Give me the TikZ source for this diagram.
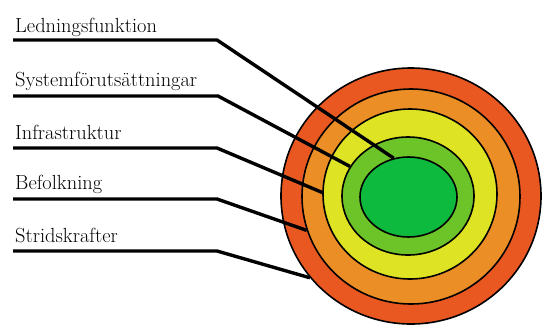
\documentclass[tikz,border=0pt]{standalone}
\usetikzlibrary{shapes.geometric}

\definecolor{ringred}{RGB}{234,88,34}
\definecolor{ringorange}{RGB}{236,142,38}
\definecolor{ringyellow}{RGB}{222,228,36}
\definecolor{ringlime}{RGB}{108,196,40}
\definecolor{ringgreen}{RGB}{14,186,62}

\tikzset{
  ring/.style={ellipse, draw=black, line width=1.6bp, inner sep=0pt},
  lbl/.style={anchor=base west, inner sep=0pt, font=\rmfamily\fontsize{20.5}{25}\selectfont},
  leader/.style={line width=3.4bp, line join=miter}
}

\begin{document}
\begin{tikzpicture}[x=1bp, y=-1bp]
        \useasboundingbox (0,0) rectangle (542,326);

        % Rings, outside in
        \node[ring, fill=ringred, minimum width=260bp, minimum height=256bp] (outer) at (411,196) {};
        \node[ring, fill=ringorange, minimum width=218bp, minimum height=215bp] (orange) at (411,196.5) {};
        \node[ring, fill=ringyellow, minimum width=174bp, minimum height=170bp] (yellow) at (410,194) {};
        \node[ring, fill=ringlime, minimum width=132bp, minimum height=118bp] (lime) at (408,196) {};
        \node[ring, fill=ringgreen, minimum width=97bp, minimum height=80bp] (core) at (408.5,197) {};

        % Labels
        \node[lbl] (led) at (15,32) {Ledningsfunktion};
        \node[lbl] (sys) at (15,86) {Systemförutsättningar};
        \node[lbl] (infra) at (15,139) {Infrastruktur};
        \node[lbl] (bef) at (15,189) {Befolkning};
        \node[lbl] (strid) at (15,242) {Stridskrafter};

        % Leader lines
        \coordinate (ledA) at (13,40);   \coordinate (ledB) at (217,40);
        \coordinate (sysA) at (13,96);   \coordinate (sysB) at (218,96);
        \coordinate (infraA) at (13,148); \coordinate (infraB) at (217,148);
        \coordinate (befA) at (13,199);  \coordinate (befB) at (217,199);
        \coordinate (stridA) at (13,251); \coordinate (stridB) at (217,251);

        \draw[leader] (ledA) -- (ledB) -- (core.111);
        \draw[leader] (sysA) -- (sysB) -- (lime.153);
        \draw[leader] (infraA) -- (infraB) -- (yellow.179);
        \draw[leader] (befA) -- (befB) -- (orange.198);
        \draw[leader] (stridA) -- (stridB) -- (outer.219);
    \end{tikzpicture}
\end{document}
